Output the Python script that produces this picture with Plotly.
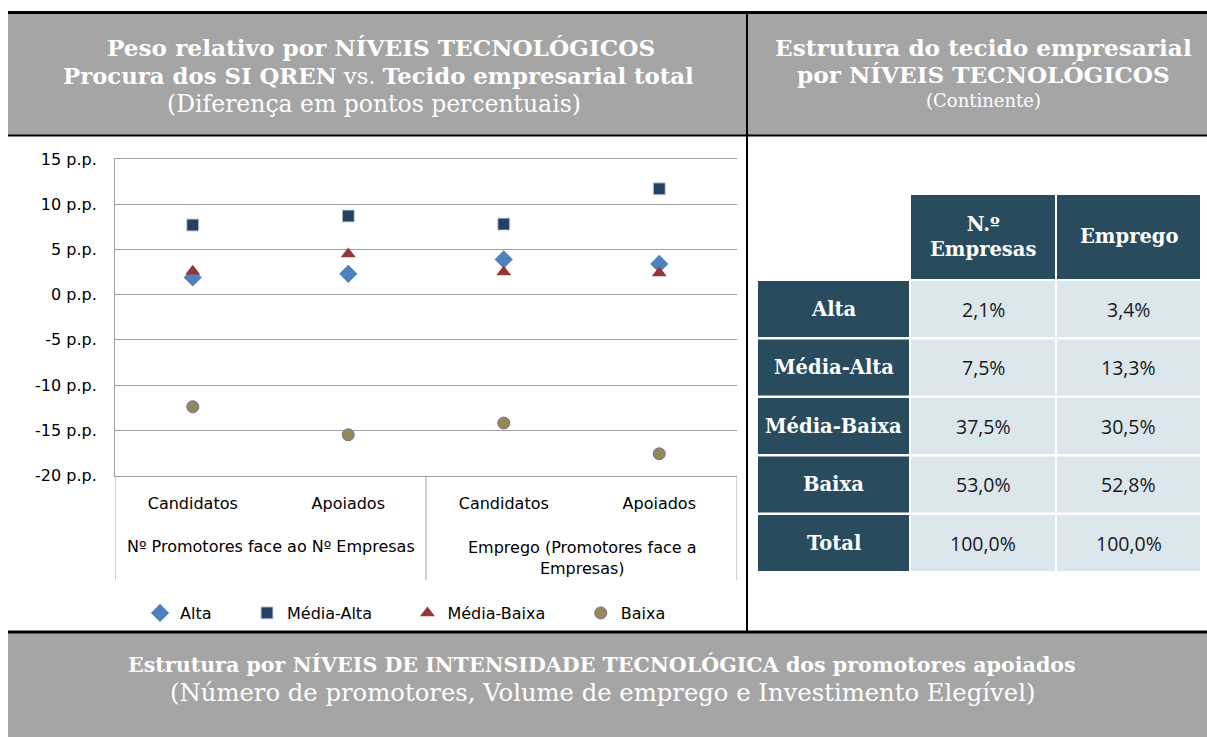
import plotly.graph_objects as go

W, H = 1207, 737

# ---------------- data ----------------
categories = ["Candidatos", "Apoiados", "Candidatos", "Apoiados"]
group_labels = ["Nº Promotores face ao Nº Empresas", "Emprego (Promotores face a<br>Empresas)"]
group_sizes = [2, 2]
series_names = ["Alta", "Média-Alta", "Média-Baixa", "Baixa"]
alta = [1.9, 2.3, 3.9, 3.4]
media_alta = [7.7, 8.7, 7.8, 11.7]
media_baixa = [2.6, 4.5, 2.5, 2.4]
baixa = [-12.4, -15.5, -14.2, -17.6]
y_ticks = [-20, -15, -10, -5, 0, 5, 10, 15]
y_tick_labels = [f"{v} p.p." for v in y_ticks]

table_rows = ["Alta", "Média-Alta", "Média-Baixa", "Baixa", "Total"]
table_cols = ["N.º<br>Empresas", "Emprego"]
n_empresas = [2.1, 7.5, 37.5, 53.0, 100.0]
emprego = [3.4, 13.3, 30.5, 52.8, 100.0]

# ---------------- style ----------------
SERIF = "DejaVu Serif"
SANS = "DejaVu Sans"
VALF = "Open Sans"
GRAY = "#A5A5A5"
DARK = "#284C5D"
LIGHT = "#DBE6ED"
GRID = "#A0A0A0"


def px(x):
    return x / W


def py(y):
    return 1 - y / H


xs = list(range(len(categories)))

fig = go.Figure()
styles = [
    dict(symbol="diamond", size=14, color="#4F81BD", line=dict(width=0)),
    dict(symbol="square", size=12, color="#254061", line=dict(width=1, color="#C5D3E6")),
    dict(symbol="triangle-up", size=13, color="#953735", line=dict(width=0)),
    dict(symbol="circle", size=12, color="#948A54", line=dict(width=1, color="#8064A2")),
]
for name, vals, st in zip(series_names, [alta, media_alta, media_baixa, baixa], styles):
    fig.add_trace(go.Scatter(x=xs, y=vals, mode="markers", name=name + "\u00a0" * 6,
                             marker=st, hoverinfo="skip"))

shapes = []
ann = []

# header band + bottom band
shapes.append(dict(type="rect", xref="paper", yref="paper", x0=px(8), x1=px(W), y0=py(135), y1=py(13),
                   fillcolor=GRAY, line=dict(width=0), layer="below"))
shapes.append(dict(type="rect", xref="paper", yref="paper", x0=px(8), x1=px(W), y0=py(H), y1=py(633),
                   fillcolor=GRAY, line=dict(width=0), layer="below"))
for yy, wd in [(12.5, 3), (135.5, 2), (632, 3)]:
    shapes.append(dict(type="line", xref="paper", yref="paper", x0=px(8), x1=px(W), y0=py(yy), y1=py(yy),
                       line=dict(color="black", width=wd)))
shapes.append(dict(type="line", xref="paper", yref="paper", x0=px(747), x1=px(747), y0=py(12), y1=py(632),
                   line=dict(color="black", width=2)))


def txt(x, y, s, size, font=SERIF, color="white", xref="paper", **kw):
    ann.append(dict(x=px(x) if xref == "paper" else x, y=py(y), xref=xref, yref="paper", text=s,
                    showarrow=False, xanchor="center", yanchor="middle",
                    font=dict(family=font, size=size, color=color), **kw))


# header texts
txt(381, 47, "<b>Peso relativo por NÍVEIS TECNOLÓGICOS</b>", 23.2)
txt(378, 76, "<b>Procura dos SI QREN</b> vs. <b>Tecido empresarial total</b>", 22.8)
txt(374, 104, "(Diferença em pontos percentuais)", 23.5)
txt(983, 47, "<b>Estrutura do tecido empresarial</b>", 23.2)
txt(983, 75, "<b>por NÍVEIS TECNOLÓGICOS</b>", 23.2)
txt(983, 101, "(Continente)", 18)
txt(602, 664, "<b>Estrutura por NÍVEIS DE INTENSIDADE TECNOLÓGICA dos promotores apoiados</b>", 20.6)
txt(602, 692, "(Número de promotores, Volume de emprego e Investimento Elegível)", 24.3)

# category group labels and dividers
start = 0
bounds = [-0.5]
for lab, n in zip(group_labels, group_sizes):
    center = start + (n - 1) / 2
    two = "<br>" in lab
    ann.append(dict(x=center, y=py(546), xref="x", yref="paper", text=lab, showarrow=False,
                    xanchor="center", yanchor="top" if two else "middle",
                    yshift=10 if two else 0,
                    font=dict(family=SANS, size=16, color="black")))
    start += n
    bounds.append(start - 0.5)
for b in bounds:
    shapes.append(dict(type="line", xref="x", yref="paper", x0=b, x1=b, y0=py(475.5), y1=py(580),
                       line=dict(color=GRID, width=1)))

# table
col_x = [(758, 909), (911, 1055), (1057, 1200)]
head_y = (195, 279)
row_top0, row_pitch, row_h = 281, 58.5, 56
for (x0, x1), lab in zip(col_x[1:], table_cols):
    shapes.append(dict(type="rect", xref="paper", yref="paper", x0=px(x0), x1=px(x1), y0=py(head_y[1]),
                       y1=py(head_y[0]), fillcolor=DARK, line=dict(width=0), layer="below"))
    txt((x0 + x1) / 2, (head_y[0] + head_y[1]) / 2, f"<b>{lab}</b>", 19.5)
for i, lab in enumerate(table_rows):
    t = row_top0 + i * row_pitch
    b = t + row_h
    cy = (t + b) / 2
    x0, x1 = col_x[0]
    shapes.append(dict(type="rect", xref="paper", yref="paper", x0=px(x0), x1=px(x1), y0=py(b), y1=py(t),
                       fillcolor=DARK, line=dict(width=0), layer="below"))
    txt((x0 + x1) / 2, cy, f"<b>{lab}</b>", 19.5)
    for (cx0, cx1), vals in zip(col_x[1:], [n_empresas, emprego]):
        shapes.append(dict(type="rect", xref="paper", yref="paper", x0=px(cx0), x1=px(cx1), y0=py(b),
                           y1=py(t), fillcolor=LIGHT, line=dict(width=0), layer="below"))
        txt((cx0 + cx1) / 2, cy, f"{vals[i]:.1f}".replace(".", ",") + "%", 19.5, font=VALF, color="#1A1A1A")

fig.update_layout(
    width=W, height=H, margin=dict(l=0, r=0, t=0, b=0, autoexpand=False),
    paper_bgcolor="white", plot_bgcolor="white",
    shapes=shapes, annotations=ann,
    showlegend=True,
    legend=dict(orientation="h", x=px(140), xanchor="left", y=py(613), yanchor="middle",
                font=dict(family=SANS, size=16, color="black"), bgcolor="rgba(0,0,0,0)"),
    xaxis=dict(domain=[px(115), px(737)], range=[-0.5, len(categories) - 0.5], tickvals=xs,
               ticktext=categories, showgrid=False, zeroline=False, showline=True, mirror=True,
               linecolor=GRID, ticks="", tickfont=dict(family=SANS, size=16, color="black"),
               ticklabelstandoff=13, fixedrange=True, automargin=False),
    yaxis=dict(domain=[py(475.5), py(159)], range=[-20, 15], tickvals=y_ticks, ticktext=y_tick_labels,
               showgrid=True, gridcolor=GRID, gridwidth=1, zeroline=False, showline=True, linecolor=GRID,
               ticks="", tickfont=dict(family=SANS, size=16, color="black"), ticklabelstandoff=14,
               fixedrange=True, automargin=False),
)

post = ("document.documentElement.style.margin='0';document.body.style.margin='0';"
        "document.documentElement.style.overflow='hidden';document.body.style.overflow='hidden';"
        "var d=document.getElementById('{plot_id}');d.style.position='fixed';d.style.top='0px';"
        "d.style.left='0px';")
fig.write_html("out.html", post_script=post, config={"displayModeBar": False})
